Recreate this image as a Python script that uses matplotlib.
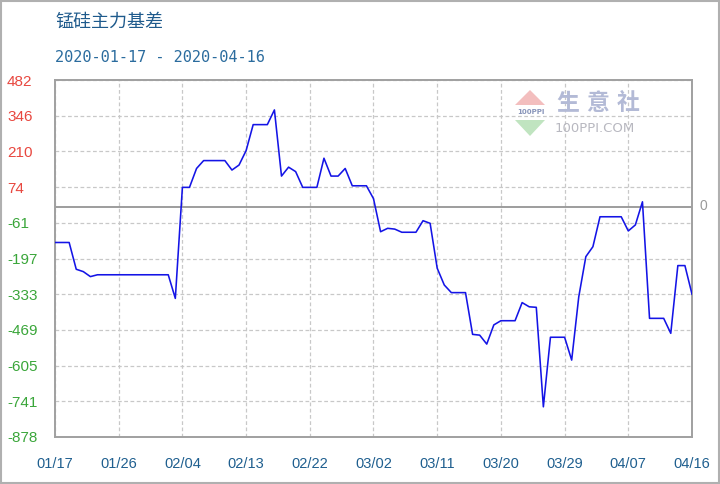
import matplotlib
matplotlib.use("Agg")
import matplotlib.pyplot as plt
import pandas as pd
import numpy as np
from matplotlib.patches import Rectangle, Polygon

# ---- data ----
title = "锰硅主力基差"
subtitle = "2020-01-17 - 2020-04-16"
dates = pd.date_range("2020-01-17", "2020-04-16", freq="D")
values = [
    -137, -137, -137, -239, -248, -267, -260, -260, -260, -260,
    -260, -260, -260, -260, -260, -260, -260, -350, 73, 73,
    145, 175, 175, 175, 175, 139, 158, 213, 312, 312,
    312, 368, 116, 150, 133, 73, 73, 73, 184, 116,
    116, 145, 79, 79, 79, 30, -96, -83, -86, -98,
    -98, -98, -54, -64, -235, -299, -328, -328, -328, -487,
    -490, -524, -451, -435, -435, -435, -366, -382, -384, -763,
    -498, -498, -498, -585, -344, -191, -153, -39, -39, -39,
    -39, -93, -70, 18, -426, -426, -426, -483, -225, -225,
    -334,
]
ytick_vals = [482, 346, 210, 74, -61, -197, -333, -469, -605, -741, -878]
ytick_labels = ["482", "346", "210", "74", "-61", "-197", "-333", "-469", "-605", "-741", "-878"]
xtick_labels = ["01/17", "01/26", "02/04", "02/13", "02/22", "03/02",
                "03/11", "03/20", "03/29", "04/07", "04/16"]

W, H = 720, 484
fig = plt.figure(figsize=(W / 100, H / 100), dpi=100)
fig.patch.set_facecolor("white")

L, R, T, B = 55, 692, 80, 437
ax = fig.add_axes([L / W, 1 - B / H, (R - L) / W, (B - T) / H])

# grid
xticks = [dates[0] + pd.Timedelta(days=9 * i) for i in range(len(xtick_labels))]
ypos = np.linspace(482, -878, len(ytick_vals))
for xt in xticks:
    ax.axvline(xt, color="#c8c8c8", lw=0.9, ls=(0, (3, 2)), zorder=1)
for yp in ypos:
    ax.axhline(yp, color="#c8c8c8", lw=0.9, ls=(0, (3, 2)), zorder=1)
ax.axhline(0, color="#8c8c8c", lw=1.2, zorder=2)

ax.plot(dates, values, color="#1414e6", lw=1.15, zorder=3)

ax.set_xlim(dates[0], dates[-1])
ax.set_ylim(-878, 482)
ax.set_xticks(xticks)
ax.set_xticklabels(xtick_labels)
ax.set_yticks(ypos)
ax.set_yticklabels(ytick_labels)
ax.tick_params(axis="both", length=0)
ax.tick_params(axis="y", pad=34.5)
ax.tick_params(axis="x", pad=14.5)
for lab, v in zip(ax.get_yticklabels(), ytick_vals):
    lab.set_horizontalalignment("left")
    lab.set_color("#e8473f" if v > 0 else "#3aa63a")
    lab.set_fontfamily("Liberation Sans")
    lab.set_fontsize(11)
for lab in ax.get_xticklabels():
    lab.set_color("#1f5f8f")
    lab.set_fontfamily("Liberation Sans")
    lab.set_fontsize(10.5)

for s in ax.spines.values():
    s.set_color("#a0a0a0")
    s.set_linewidth(1.4)

# zero label on right
fig.text(700 / W, 1 - 206 / H, "0", color="#9a9a9a", fontsize=10,
         family="Liberation Sans", va="center", ha="left")

# titles
fig.text(55 / W, 1 - 22 / H, title, color="#1e5a8c", fontsize=13,
         family=["Noto Sans CJK SC", "DejaVu Sans"], va="center", ha="left")
fig.text(55 / W, 1 - 57 / H, subtitle, color="#2b6c9e", fontsize=11,
         family="DejaVu Sans Mono", va="center", ha="left")

# watermark logo
up = Polygon([[530 / W, 1 - 90 / H], [515 / W, 1 - 105 / H], [545 / W, 1 - 105 / H]],
             closed=True, transform=fig.transFigure, facecolor="#f2b7b7",
             edgecolor="none", alpha=0.9, zorder=5)
dn = Polygon([[515 / W, 1 - 120 / H], [545 / W, 1 - 120 / H], [530 / W, 1 - 136 / H]],
             closed=True, transform=fig.transFigure, facecolor="#b9e2b9",
             edgecolor="none", alpha=0.9, zorder=5)
fig.add_artist(up)
fig.add_artist(dn)
fig.text(530.5 / W, 1 - 112.5 / H, "100PPI", color="#6a7aa8", fontsize=5,
         family="DejaVu Sans", va="center", ha="center", alpha=0.8,
         fontweight="bold")
for ch, cx in zip("生意社", [568, 598, 628]):
    fig.text(cx / W, 1 - 104 / H, ch, color="#b3bad6", fontsize=16.5,
             family=["Noto Sans CJK SC", "DejaVu Sans"], va="center",
             ha="center", fontweight="bold")
fig.text(555 / W, 1 - 129 / H, "100PPI.COM", color="#b8b8c0", fontsize=9.5,
         family="DejaVu Sans", va="center", ha="left")

# outer border
fig.add_artist(Rectangle((1 / W, 1 / H), (W - 2) / W, (H - 2) / H,
                         transform=fig.transFigure, fill=False,
                         edgecolor="#b0b0b0", lw=1.5))

fig.savefig("out.png", dpi=100)
